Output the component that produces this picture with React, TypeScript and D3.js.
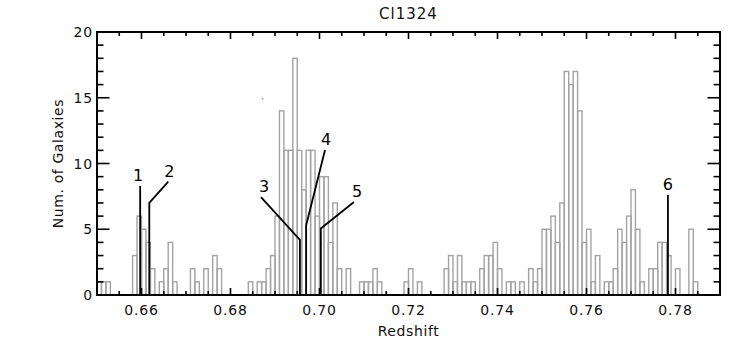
import React from "react";
import * as d3 from "d3";

// ---- data ----
const title = "Cl1324";
const xLabel = "Redshift";
const yLabel = "Num. of Galaxies";
const binStart = 0.65;
const binWidth = 0.001;
// counts per 0.001 bin starting at z = 0.650
const counts = [
  1, 1, 1, 0, 0, 0, 0, 0, 3, 6,
  5, 4, 2, 0, 1, 2, 4, 1, 0, 0,
  0, 2, 1, 0, 2, 0, 3, 2, 0, 0,
  0, 0, 0, 0, 1, 0, 1, 1, 2, 3,
  6, 14, 11, 11, 18, 11, 8, 11, 11, 6,
  9, 9, 4, 7, 2, 0, 2, 0, 0, 1,
  1, 1, 2, 1, 0, 0, 0, 0, 0, 1,
  2, 0, 1, 0, 0, 0, 0, 0, 2, 3,
  1, 3, 1, 1, 1, 0, 2, 3, 3, 4,
  2, 0, 1, 1, 0, 1, 0, 2, 1, 2,
  5, 5, 6, 4, 7, 17, 16, 17, 14, 4,
  5, 1, 3, 0, 1, 1, 2, 5, 4, 6,
  8, 5, 1, 0, 2, 2, 4, 4, 3, 0,
  2, 0, 0, 5, 1, 0, 0, 0, 0, 0,
];
const xTickValues = [0.66, 0.68, 0.7, 0.72, 0.74, 0.76, 0.78];
const xTickLabels = ["0.66", "0.68", "0.70", "0.72", "0.74", "0.76", "0.78"];
const yTickValues = [0, 5, 10, 15, 20];
const yTickLabels = ["0", "5", "10", "15", "20"];

const markerLabels = ["1", "2", "3", "4", "5", "6"];
const markerZ = [0.6597, 0.66175, 0.6956, 0.697, 0.7003, 0.7783];
const markerTop = [8.3, 7.0, 4.2, 5.3, 5.06, 7.6];
const markerEndZ = [0.6597, 0.66602, 0.68685, 0.70124, 0.70775, 0.7783];
const markerEndV = [8.3, 8.62, 7.45, 11.03, 7.07, 7.6];

// ---- layout / style ----
const W = 747;
const H = 358;
const L = 97, R = 720, T = 32, B = 295;
const labelDx = [-2, 1, 3, 1, 3, 0];
const FONT = "'DejaVu Sans', sans-serif";

export default function App() {
  const xs = d3.scaleLinear().domain([0.65, 0.79]).range([L, R]);
  const ys = d3.scaleLinear().domain([0, 20]).range([B, T]);

  const xMinor = d3.range(0, 29).map((i) => 0.65 + i * 0.005).filter((v) => v > 0.6501 && v < 0.7899);
  const yMinor = d3.range(1, 20);

  const bars = counts
    .map((c, i) => ({ c, z0: binStart + i * binWidth }))
    .filter((d) => d.c > 0);

  const line = d3.line<[number, number]>().x((d) => xs(d[0])).y((d) => ys(d[1]));

  return (
    <svg width={W} height={H} style={{ position: "absolute", left: 0, top: 0, background: "#fff" }}>
      <rect x={0} y={0} width={W} height={H} fill="#fff" />
      {/* histogram */}
      <g fill="none" stroke="#a3a3a3" strokeWidth={1.4}>
        {bars.map((d, i) => (
          <rect
            key={i}
            x={xs(d.z0)}
            y={ys(d.c)}
            width={xs(d.z0 + binWidth) - xs(d.z0)}
            height={ys(0) - ys(d.c)}
          />
        ))}
      </g>
      {/* stray dot */}
      <rect x={262} y={98} width={1.2} height={1.2} fill="#888" />
      {/* ticks */}
      <g stroke="#000" strokeWidth={1.6}>
        {xMinor.map((v, i) => {
          const major = xTickValues.some((t) => Math.abs(t - v) < 1e-6);
          const len = major ? 7 : 4;
          return (
            <g key={i}>
              <line x1={xs(v)} x2={xs(v)} y1={B} y2={B - len} />
              <line x1={xs(v)} x2={xs(v)} y1={T} y2={T + len} />
            </g>
          );
        })}
        {yMinor.map((v, i) => {
          const len = v % 5 === 0 ? 12.5 : 6.5;
          return (
            <g key={i}>
              <line x1={L} x2={L + len} y1={ys(v)} y2={ys(v)} />
              <line x1={R} x2={R - len} y1={ys(v)} y2={ys(v)} />
            </g>
          );
        })}
      </g>
      {/* frame */}
      <rect x={L} y={T} width={R - L} height={B - T} fill="none" stroke="#000" strokeWidth={2} />
      {/* markers */}
      <g fill="none" stroke="#000" strokeWidth={1.8}>
        {markerZ.map((z, i) => (
          <path
            key={i}
            d={
              line([
                [z, 0],
                [z, markerTop[i]],
                [markerEndZ[i], markerEndV[i]],
              ]) || ""
            }
          />
        ))}
      </g>
      <g fontFamily={FONT} fontSize={16} fill="#000" textAnchor="middle">
        {markerLabels.map((t, i) => (
          <text key={i} x={xs(markerEndZ[i]) + labelDx[i]} y={ys(markerEndV[i]) - 5}>
            {t}
          </text>
        ))}
      </g>
      {/* tick labels */}
      <g fontFamily={FONT} fontSize={14} fill="#111" letterSpacing={0.8}>
        {xTickValues.map((v, i) => (
          <text key={i} x={xs(v)} y={315} textAnchor="middle">
            {xTickLabels[i]}
          </text>
        ))}
        {yTickValues.map((v, i) => (
          <text key={i} x={93} y={ys(v) + 5} textAnchor="end">
            {yTickLabels[i]}
          </text>
        ))}
      </g>
      {/* titles */}
      <text x={(L + R) / 2} y={19} textAnchor="middle" fontFamily={FONT} fontSize={15} letterSpacing={1} fill="#111">
        {title}
      </text>
      <text x={(L + R) / 2} y={336} textAnchor="middle" fontFamily={FONT} fontSize={14} letterSpacing={0.6} fill="#111">
        {xLabel}
      </text>
      <text
        transform={`translate(63, ${(T + B) / 2}) rotate(-90)`}
        textAnchor="middle"
        fontFamily={FONT}
        fontSize={14}
        letterSpacing={0.6}
        fill="#111"
      >
        {yLabel}
      </text>
    </svg>
  );
}
